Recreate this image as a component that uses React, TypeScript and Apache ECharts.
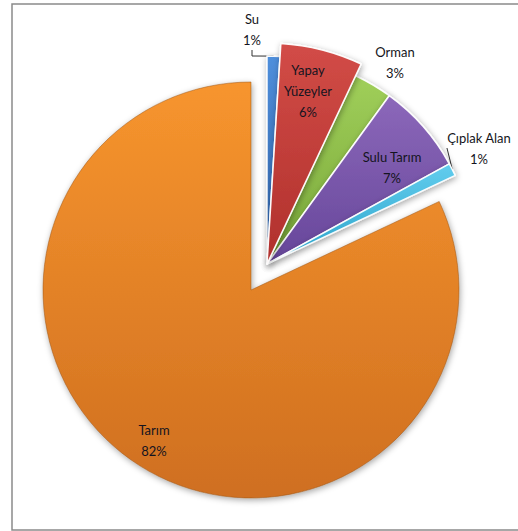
import React, { useEffect, useRef } from "react";
import * as echarts from "echarts";

// ---- data ----
const CATEGORIES = ["Su", "Yapay Yüzeyler", "Orman", "Sulu Tarım", "Çıplak Alan", "Tarım"];
const VALUES = [1, 6, 3, 7, 1, 82];

// ---- styles ----
const COLOR_TOP = ["#4f8fdc", "#d24c47", "#a0cf5a", "#8c68ba", "#62cdee", "#f7952e"];
const COLOR_BOTTOM = ["#2e60a6", "#b0302c", "#78a638", "#66469a", "#2aa2c9", "#cf6f20"];
const INSIDE = [false, true, false, true, false, true];
const LEADER = [true, false, false, false, true, false];
const LABEL_XY: number[][] = [
  [252, 29],
  [308, 91],
  [395, 62],
  [392, 167],
  [479, 148],
  [154, 440],
];
const WRAP = new Set([1]);

function grad(i: number) {
  return {
    type: "linear",
    x: 0,
    y: 0,
    x2: 0,
    y2: 1,
    colorStops: [
      { offset: 0, color: COLOR_TOP[i] },
      { offset: 1, color: COLOR_BOTTOM[i] },
    ],
  };
}

function makePie(center: number[], radius: number, visible: number[], big: boolean) {
  return {
    type: "pie",
    center,
    radius,
    startAngle: 90,
    clockwise: true,
    avoidLabelOverlap: false,
    silent: true,
    emphasis: { disabled: true },
    label: {
      fontFamily: "Lato",
      fontSize: 13,
      color: "#141420",
      lineHeight: 21,
      align: "center",
      formatter: (p: any) => {
        const name = WRAP.has(p.dataIndex) ? p.name.replace(" ", "\n") : p.name;
        return name + "\n" + p.value + "%";
      },
    },
    labelLine: { lineStyle: { color: "#333", width: 1 }, length: 6, length2: 6 },
    labelLayout: (params: any) => {
      const xy = LABEL_XY[params.dataIndex];
      return { x: xy[0], y: xy[1], align: "center", verticalAlign: "middle" };
    },
    data: CATEGORIES.map((name, i) => {
      const show = visible.includes(i);
      return {
        name,
        value: VALUES[i],
        itemStyle: show
          ? {
              color: grad(i),
              borderColor: big ? "rgba(150,80,20,0.6)" : "rgba(255,255,255,0.95)",
              borderWidth: big ? 0.8 : 1.5,
              shadowBlur: 6,
              shadowColor: "rgba(0,0,0,0.35)",
              shadowOffsetX: 1,
              shadowOffsetY: 2,
            }
          : { color: "rgba(0,0,0,0)", borderWidth: 0 },
        label: {
          show,
          position: INSIDE[i] ? "inside" : "outside",
        },
        labelLine: { show: show && LEADER[i] },
      };
    }),
  };
}

export default function App() {
  const ref = useRef<HTMLDivElement>(null);
  useEffect(() => {
    document.body.style.margin = "0";
    if (!ref.current) return;
    const chart = echarts.init(ref.current, null, { renderer: "svg" });
    chart.setOption({
      animation: false,
      backgroundColor: "#ffffff",
      graphic: [
        {
          type: "rect",
          shape: { x: 12, y: 4, width: 530, height: 526 },
          style: { fill: "none", stroke: "#8a8a8a", lineWidth: 1.5 },
          silent: true,
        },
      ],
      series: [
        makePie([251, 290], 208, [5], true),
        makePie([267, 264], 208, [0, 2, 3, 4], false),
        makePie([267, 264], 221, [1], false),
      ],
    });
    return () => chart.dispose();
  }, []);
  return <div ref={ref} style={{ width: 518, height: 531 }} />;
}
